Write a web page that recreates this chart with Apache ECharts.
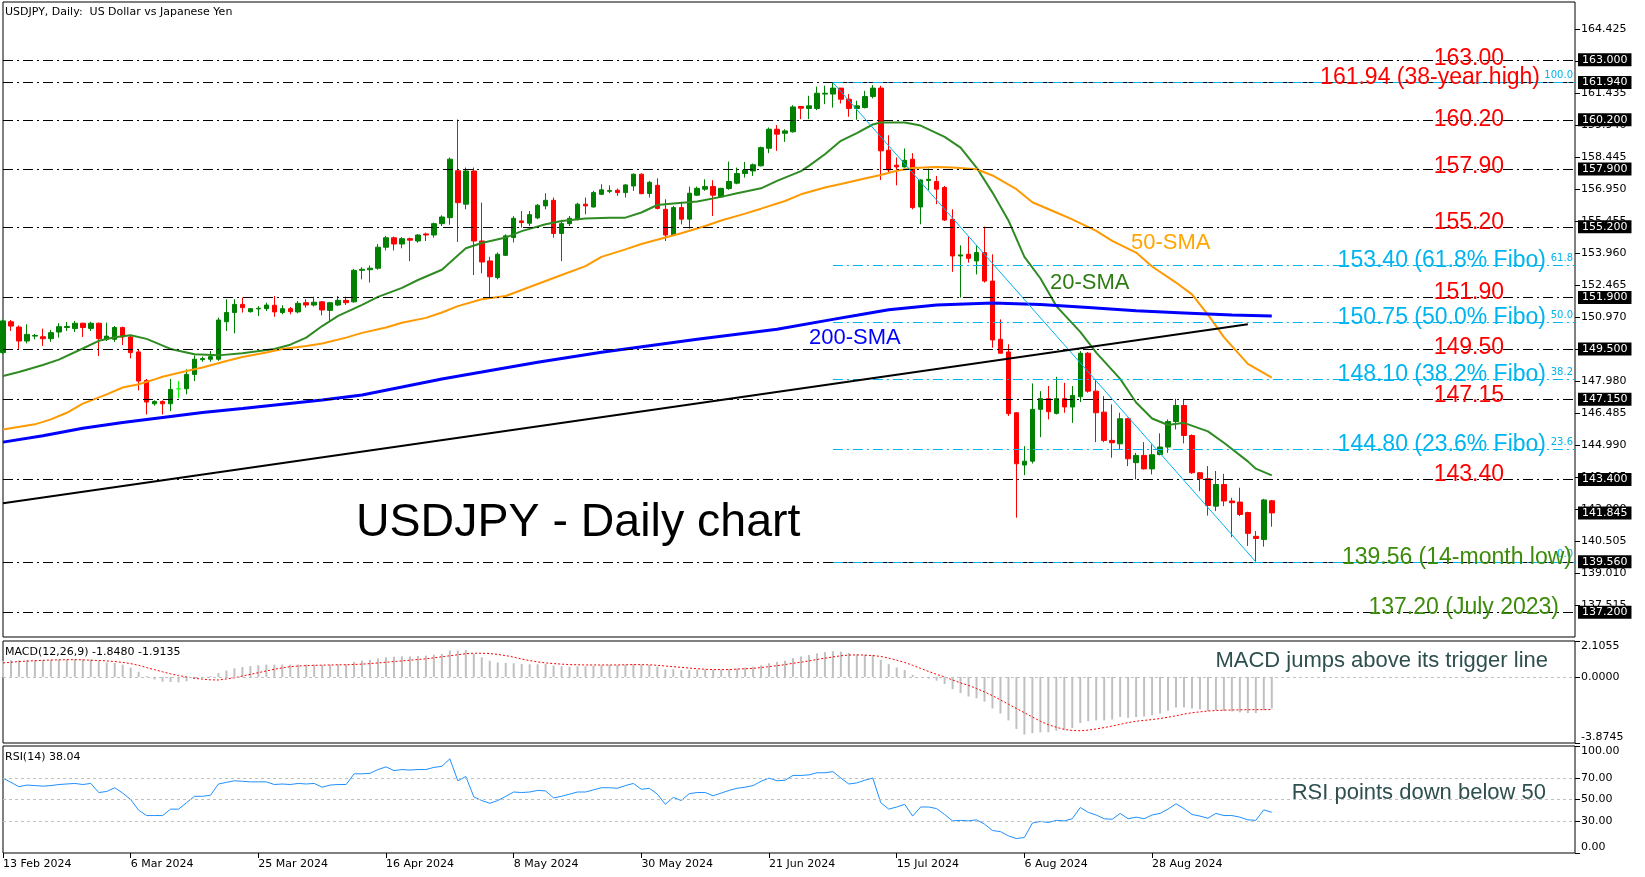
<!DOCTYPE html>
<html>
<head>
<meta charset="utf-8">
<title>USDJPY Daily chart</title>
<script src="https://cdn.jsdelivr.net/npm/echarts@6.0.0/dist/echarts.min.js"></script>
<style>
  html, body { margin: 0; padding: 0; background: #fff; }
  #chart { width: 1645px; height: 877px; }
</style>
</head>
<body>
<div id="chart"></div>
<script>
// daily bars, 13 Feb 2024 -> 18 Sep 2024
const opens = [
  149.33,150.77,150.52,149.87,150.1,150.07,149.98,150.29,150.5,150.45,
  150.7,150.46,150.7,149.95,149.95,150.5,150.06,149.36,148.03,146.94,
  147.05,146.94,147.64,147.64,148.31,149.0,149.02,149.02,150.77,151.2,
  151.58,151.24,151.37,151.38,151.54,151.2,151.38,151.23,151.66,151.55,
  151.7,151.3,151.55,151.77,151.7,153.17,153.2,153.27,154.25,154.69,
  154.4,154.65,154.54,154.87,154.82,155.35,155.63,157.82,156.26,157.81,
  154.54,153.61,152.83,153.87,154.7,155.48,155.37,155.62,156.18,156.44,
  154.89,155.35,155.56,156.26,156.13,156.72,156.86,156.91,156.8,157.11,
  157.66,156.76,157.14,156.02,154.82,156.1,155.56,156.68,156.96,157.08,
  156.6,156.99,157.24,157.69,157.81,158.05,158.87,159.76,159.57,159.64,
  160.82,160.73,160.73,161.4,161.4,161.68,161.16,160.73,160.77,161.29,
  161.68,158.78,158.08,158.0,158.36,156.13,157.37,157.32,157.04,155.56,
  153.84,153.92,153.61,154.0,152.67,149.95,149.36,146.52,144.08,144.26,
  146.68,147.18,146.49,147.18,146.79,147.27,149.3,147.53,146.55,145.23,
  145.07,146.24,144.19,144.53,143.9,144.57,144.92,146.11,146.86,145.46,
  143.72,143.44,142.16,143.17,142.4,142.35,141.86,140.75,140.6,142.41
];
const highs = [
  150.88,150.85,150.6,150.65,150.2,150.45,150.39,150.7,150.76,150.8,
  150.72,150.77,150.73,150.73,150.57,150.54,150.1,149.45,148.1,147.1,
  147.1,148.1,148.0,148.55,149.2,149.14,149.4,150.96,151.82,151.82,
  151.9,151.4,151.5,151.66,151.97,151.54,151.46,151.74,151.82,151.94,
  151.72,151.7,151.97,151.94,153.24,153.32,153.4,154.4,154.78,154.75,
  154.72,154.7,154.86,154.93,155.4,155.74,158.44,160.21,157.97,157.97,
  156.33,153.8,154.0,154.85,155.7,155.94,155.94,156.26,156.77,156.57,
  155.53,155.71,156.33,156.57,156.88,157.19,157.14,156.99,157.19,157.69,
  157.7,157.35,157.47,156.49,156.18,156.37,157.08,157.08,157.42,157.38,
  157.02,158.25,157.97,158.23,158.16,158.95,159.84,159.95,159.76,160.88,
  160.82,161.32,161.75,161.79,161.94,161.68,161.4,161.09,161.55,161.82,
  161.79,159.48,158.44,158.86,158.64,157.42,157.92,157.58,157.11,156.02,
  154.34,154.75,154.34,155.21,153.92,150.88,149.72,146.55,144.96,147.89,
  147.53,147.77,148.2,147.92,147.77,149.4,149.36,148.08,147.3,146.91,
  146.52,146.29,144.65,145.15,145.04,145.56,146.21,147.17,147.17,145.51,
  143.75,144.03,143.8,143.67,142.55,143.02,141.9,141.0,142.5,142.45
];
const lows = [
  149.25,150.34,149.5,149.76,149.95,149.64,149.83,150.03,150.34,150.29,
  150.06,150.34,149.17,149.87,149.83,149.68,149.06,147.57,146.44,146.85,
  146.44,146.6,147.2,147.38,148.0,148.9,148.9,148.94,150.34,150.23,
  151.2,151.2,151.04,151.27,151.0,151.12,151.12,151.16,151.43,151.48,
  151.07,150.8,151.5,151.55,151.66,152.75,152.6,153.2,154.1,154.1,
  154.2,153.6,154.46,154.54,154.7,155.24,155.3,154.5,156.02,152.95,
  153.03,151.86,152.75,153.84,154.47,155.17,155.24,155.56,156.02,154.7,
  153.6,155.24,155.5,155.79,156.1,156.68,156.77,156.65,156.57,156.88,
  156.72,156.57,156.02,154.54,154.78,155.32,155.12,156.65,156.88,155.71,
  156.57,156.93,157.19,157.5,157.58,158.02,158.64,158.75,159.17,159.6,
  160.23,160.23,160.65,160.93,160.77,160.96,160.34,160.2,160.73,161.2,
  157.39,157.7,157.14,157.97,156.02,155.32,156.91,156.26,155.48,153.1,
  151.9,153.53,152.98,152.6,149.56,149.3,146.37,141.62,143.61,144.15,
  145.38,146.21,146.44,146.52,146.05,147.02,147.46,145.15,145.15,144.42,
  144.81,144.03,143.41,143.87,143.64,144.53,144.65,145.74,145.09,143.67,
  142.86,141.72,141.93,142.16,140.71,141.69,140.3,139.56,140.27,141.2
];
const closes = [
  150.81,150.57,149.87,150.18,150.13,149.98,150.26,150.54,150.55,150.7,
  150.5,150.7,149.98,150.1,150.5,150.06,149.33,148.0,147.02,147.05,
  146.94,147.61,147.64,148.31,149.02,149.05,149.14,150.85,151.2,151.58,
  151.43,151.38,151.4,151.55,151.23,151.38,151.24,151.63,151.55,151.68,
  151.32,151.66,151.77,151.66,153.17,153.22,153.27,154.25,154.69,154.4,
  154.65,154.58,154.82,154.82,155.35,155.66,158.36,156.33,157.81,154.54,
  153.56,152.87,153.92,154.78,155.6,155.4,155.77,156.21,156.44,154.89,
  155.35,155.6,156.26,156.18,156.8,156.93,156.9,156.8,157.16,157.66,
  156.75,157.28,156.06,154.82,156.1,155.56,156.77,157.0,157.08,156.68,
  157.0,157.32,157.69,157.84,158.1,158.9,159.76,159.53,159.68,160.8,
  160.74,160.85,161.44,161.44,161.68,161.16,160.73,160.85,161.29,161.68,
  158.75,157.86,158.0,158.31,156.1,157.39,157.42,156.96,155.52,153.84,
  153.89,153.73,154.0,152.67,149.92,149.3,146.48,144.14,144.26,146.68,
  147.18,146.57,147.18,146.79,147.33,149.3,147.53,146.52,145.23,145.12,
  146.24,144.37,144.53,143.9,144.56,144.92,146.11,146.86,145.46,143.72,
  143.44,142.19,143.17,142.4,142.32,141.77,140.89,140.65,142.45,141.845
];
const dojiBars = [22];

// moving averages: [bar, value]
const sma20 = [[0,148.24],[2,148.42],[5,148.75],[7,149.0],[10,149.52],[12,149.88],[14,150.05],[16,150.14],[18,149.97],[21,149.5],[24,149.25],[27,149.2],[30,149.3],[34,149.5],[36,149.7],[38,150.03],[40,150.57],[42,151.04],[45,151.56],[47,151.93],[50,152.35],[52,152.72],[55,153.2],[58,154.2],[60,154.45],[63,154.7],[65,155.0],[68,155.32],[70,155.47],[73,155.59],[76,155.63],[78,155.63],[80,155.87],[82,156.22],[84,156.29],[87,156.38],[90,156.6],[92,156.77],[95,157.0],[97,157.35],[100,157.8],[101,158.05],[103,158.59],[105,159.22],[107,159.58],[109,159.98],[110,160.07],[113,160.07],[115,159.93],[118,159.4],[120,158.9],[122,157.97],[124,156.8],[126,155.5],[128,153.8],[130,152.8],[132,151.5],[135,150.3],[137,149.33],[140,148.1],[142,147.0],[144,146.25],[146,145.95],[148,146.05],[151,145.65],[153,145.12],[156,144.25],[157,143.91],[159,143.6]];
const sma50 = [[0,145.74],[4,145.98],[6,146.21],[8,146.52],[10,146.95],[13,147.38],[15,147.7],[17,147.85],[19,148.08],[20,148.2],[23,148.47],[25,148.63],[28,148.94],[30,149.12],[33,149.33],[35,149.5],[38,149.64],[40,149.75],[43,150.03],[45,150.25],[48,150.5],[50,150.72],[53,150.95],[55,151.2],[57,151.5],[60,151.82],[63,151.97],[65,152.25],[68,152.67],[70,152.95],[73,153.37],[75,153.8],[78,154.15],[80,154.4],[83,154.7],[85,154.9],[88,155.24],[90,155.5],[93,155.82],[95,156.05],[98,156.41],[100,156.72],[103,157.04],[105,157.2],[108,157.46],[110,157.62],[112,157.82],[114,157.95],[117,158.0],[119,157.97],[122,157.89],[124,157.6],[127,156.96],[129,156.35],[132,155.87],[134,155.55],[137,155.01],[139,154.55],[142,154.0],[144,153.35],[147,152.6],[149,152.05],[151,151.1],[153,150.05],[156,148.8],[159,148.16]];
const sma200 = [[0,145.15],[5,145.45],[10,145.8],[15,146.07],[20,146.3],[25,146.53],[30,146.72],[35,146.92],[40,147.12],[45,147.35],[50,147.72],[55,148.1],[60,148.42],[67,148.88],[75,149.35],[87,149.95],[97,150.42],[104,150.88],[107,151.07],[111,151.33],[117,151.55],[124,151.65],[130,151.57],[136,151.43],[142,151.28],[148,151.18],[154,151.08],[159,151.04]];

// MACD(12,26,9): main (histogram) and signal
const macdMain = [
  0.95,0.98,0.97,0.98,0.98,0.98,1.0,1.02,1.03,1.04,1.03,1.02,0.92,0.85,0.82,0.72,0.55,0.3,0.05,-0.15,
  -0.28,-0.3,-0.32,-0.25,-0.12,-0.02,0.05,0.22,0.38,0.5,0.58,0.64,0.68,0.72,0.72,0.73,0.72,0.73,0.72,0.72,
  0.7,0.72,0.74,0.75,0.88,0.95,1.0,1.08,1.15,1.18,1.2,1.2,1.22,1.25,1.3,1.35,1.55,1.55,1.58,1.35,
  1.15,0.95,0.85,0.82,0.8,0.76,0.74,0.74,0.75,0.66,0.62,0.6,0.62,0.62,0.65,0.68,0.7,0.7,0.72,0.76,
  0.72,0.7,0.6,0.45,0.45,0.4,0.42,0.43,0.45,0.42,0.42,0.45,0.5,0.55,0.6,0.68,0.8,0.88,0.95,1.1,
  1.2,1.28,1.38,1.45,1.5,1.48,1.4,1.32,1.3,1.28,1.0,0.75,0.55,0.4,0.12,0.0,-0.1,-0.22,-0.42,-0.72,
  -0.95,-1.15,-1.25,-1.45,-1.85,-2.15,-2.55,-3.05,-3.38,-3.3,-3.25,-3.25,-3.15,-3.1,-3.0,-2.7,-2.6,-2.55,-2.55,-2.5,
  -2.35,-2.4,-2.35,-2.32,-2.25,-2.15,-1.98,-1.8,-1.78,-1.85,-1.9,-2.0,-1.95,-2.0,-2.02,-2.08,-2.12,-2.12,-1.95,-1.848
];
const macdSignal = [
  0.82,0.86,0.9,0.93,0.95,0.97,0.99,1.0,1.01,1.01,1.0,0.98,0.96,0.94,0.9,0.85,0.78,0.68,0.55,0.42,
  0.3,0.18,0.08,0.0,-0.08,-0.13,-0.17,-0.18,-0.12,-0.05,0.05,0.15,0.25,0.35,0.45,0.53,0.6,0.64,0.66,0.68,
  0.69,0.7,0.71,0.71,0.73,0.75,0.78,0.82,0.86,0.9,0.94,0.98,1.02,1.06,1.12,1.18,1.24,1.3,1.36,1.39,
  1.39,1.37,1.32,1.25,1.16,1.05,0.96,0.88,0.82,0.78,0.75,0.72,0.71,0.7,0.7,0.7,0.7,0.7,0.71,0.72,
  0.72,0.71,0.68,0.64,0.6,0.56,0.52,0.48,0.45,0.43,0.43,0.43,0.46,0.48,0.5,0.55,0.6,0.66,0.72,0.8,
  0.86,0.94,1.02,1.1,1.17,1.24,1.28,1.29,1.28,1.25,1.2,1.1,0.98,0.85,0.68,0.5,0.32,0.15,0.0,-0.18,
  -0.35,-0.5,-0.68,-0.88,-1.1,-1.35,-1.6,-1.85,-2.1,-2.35,-2.6,-2.8,-2.95,-3.08,-3.14,-3.16,-3.12,-3.05,-2.97,-2.88,
  -2.78,-2.68,-2.6,-2.55,-2.5,-2.44,-2.36,-2.28,-2.18,-2.1,-2.05,-2.0,-1.97,-1.95,-1.94,-1.93,-1.92,-1.92,-1.92,-1.9135
];
// RSI(14)
const rsi = [
  70,66,62,63.5,63,62.5,63,64,64.5,65,64,65,56.5,57.5,61,56,50,40,35,35,
  35,41,41,47,53,53,54,64.5,66,67.5,67,66.5,66.5,66.5,64,64.5,64,65,64.5,65,
  61.5,63.5,64,64,74,74,74.5,78,80.5,77,78,77.5,78,78,80,81,88,67.5,71.5,52.5,
  49,46.5,49,53,57,56.5,57,58.5,58,51.5,53,55,57,57,59,61,61,60.5,63,65,
  59.5,60.5,55,45.5,52,49,55.5,56.5,56.5,53.5,56,58.5,60.5,61.5,63,67,70,67.5,68,72.5,
  72.5,73,75,75,76,70,64.5,65.5,68,70,47,41,43,45.5,34.5,43,43,41.5,36,30,
  30.5,30,31,27,21,20,16,13.5,14.5,28,29.5,28.5,30.5,30,32,42.5,38,35.5,32,31.5,
  37,32,33.5,32,35.5,37,41,46,41.5,36,34.5,32.5,37,35,35,33.5,31,30.5,40.3,38.04
];

// axis ticks and labels
const dateTicks = ['13 Feb 2024', '6 Mar 2024', '25 Mar 2024', '16 Apr 2024', '8 May 2024',
  '30 May 2024', '21 Jun 2024', '15 Jul 2024', '6 Aug 2024', '28 Aug 2024'];
const priceTicks = [137.515, 139.010, 140.505, 142.000, 143.495, 144.990, 146.485, 147.980, 149.475,
  150.970, 152.465, 153.960, 155.455, 156.950, 158.445, 159.940, 161.435, 162.930, 164.425];
const macdTicks = [-3.8745, 0, 2.1055];
const rsiTicks = [0, 30, 50, 70, 100];

// horizontal levels and notes
const levels = [163.00, 161.94, 160.20, 157.90, 155.20, 151.90, 149.50, 147.15, 143.40, 139.56, 137.20];
const lastPrice = 141.845;
const redNotes = [163.00, 160.20, 157.90, 155.20, 151.90, 149.50, 147.15, 143.40];
const highNote = [161.94, '161.94 (38-year high)'];
const lowNotes = [[139.56, '139.56 (14-month low)'], [137.20, '137.20 (July 2023)']];
const fiboLevels = [161.94, 153.40, 150.75, 148.10, 144.80, 139.56];
const fiboRatios = [100.0, 61.8, 50.0, 38.2, 23.6, 0.0];
const fiboFrom = [104, 161.94];
const fiboTo = [157, 139.56];
const trendFrom = [0, 142.3];
const trendTo = [156, 150.65];

const barStep = 16;          // a date label every 16 bars
const slotCount = 198;       // bars that fit across the panel
const slots = Array.from({ length: slotCount }, (_, i) => String(i));
const lastSlot = slotCount - 1;

// some notes sit a little lower on their line in the original
const noteDrop = { '163.00': 3, '160.20': 4, '157.90': 2, '149.50': 3, '147.15': 1 };

const candles = opens.map((o, i) => {
  const item = { value: [o, closes[i], lows[i], highs[i]] };
  if (dojiBars.includes(i)) item.itemStyle = { color: '#00ff00', borderColor: '#00ff00' };
  return item;
});

const dashDot = [10, 4, 2, 4];
const FIBO = '#00b4f0';
const boxLabel = v => ({
  show: true, position: 'end', distance: 3, formatter: v.toFixed(3),
  color: '#fff', backgroundColor: '#000', padding: [1, 4, 0, 4],
  fontFamily: 'DejaVu Sans', fontSize: 11, lineHeight: 12, opacity: 1
});
const noteLine = (v, text, color, inset) => ({
  yAxis: v,
  lineStyle: { color: 'rgba(0,0,0,0)' },
  label: {
    show: true, position: 'insideEndTop', distance: [inset, -7 - (noteDrop[text] || 0)], formatter: text,
    color: color, fontFamily: 'Liberation Sans', fontSize: 23, lineHeight: 23, opacity: 1
  }
});

const marks = [];
levels.forEach(v => marks.push({
  yAxis: v, lineStyle: { color: '#000', width: 1, type: dashDot }, label: boxLabel(v)
}));
marks.push({ yAxis: lastPrice, lineStyle: { color: 'rgba(0,0,0,0)' }, label: boxLabel(lastPrice) });
fiboLevels.forEach((v, k) => marks.push([
  {
    coord: [fiboFrom[0], v], lineStyle: { color: FIBO, width: 1, type: dashDot },
    label: { show: true, position: 'insideEndTop', distance: [2, 2], formatter: fiboRatios[k].toFixed(1),
      color: FIBO, fontFamily: 'DejaVu Sans', fontSize: 10 }
  },
  { coord: [lastSlot, v] }
]));
marks.push([
  { coord: fiboFrom, lineStyle: { color: FIBO, width: 1, type: 'solid' }, label: { show: false } },
  { coord: fiboTo }
]);
marks.push([
  { coord: trendFrom, lineStyle: { color: '#000', width: 2, type: 'solid' }, label: { show: false } },
  { coord: trendTo }
]);
redNotes.forEach(v => marks.push(noteLine(v, v.toFixed(2), '#ff0000', 71)));
marks.push(noteLine(highNote[0], highNote[1], '#ff0000', 35));
fiboLevels.forEach((v, k) => {
  if (k > 0 && k < fiboLevels.length - 1) {
    marks.push(noteLine(v, v.toFixed(2) + ' (' + fiboRatios[k].toFixed(1) + '% Fibo)', FIBO, 29));
  }
});
marks.push(noteLine(lowNotes[0][0], lowNotes[0][1], '#3c8c0a', 3));
marks.push(noteLine(lowNotes[1][0], lowNotes[1][1], '#3c8c0a', 16));

const axisFont = { color: '#000', fontFamily: 'DejaVu Sans', fontSize: 11 };
const showDate = idx => idx % barStep === 0 && idx / barStep < dateTicks.length;

function xAxisFor(gridIndex, withLabels) {
  return {
    gridIndex, type: 'category', data: slots, boundaryGap: false,
    axisLine: { show: false }, splitLine: { show: false },
    axisTick: withLabels
      ? { show: true, interval: showDate, length: 5, lineStyle: { color: '#000' } }
      : { show: false },
    axisLabel: withLabels
      ? Object.assign({ show: true, interval: showDate, align: 'left', margin: 6,
          formatter: (val, idx) => dateTicks[idx / barStep] }, axisFont)
      : { show: false }
  };
}

function yAxisFor(gridIndex, min, max, ticks, digits, edgeAlign) {
  const label = Object.assign({
    customValues: ticks, margin: 6, formatter: v => v.toFixed(digits)
  }, axisFont);
  if (edgeAlign) {
    // lowest label sits above the bottom edge, highest below the top edge
    label.verticalAlignMinLabel = 'bottom';
    label.verticalAlignMaxLabel = 'top';
  }
  return {
    gridIndex, type: 'value', position: 'right', min, max, scale: true,
    axisLine: { show: false }, splitLine: { show: false },
    axisTick: { show: true, customValues: ticks, length: 5, lineStyle: { color: '#000' } },
    axisLabel: label
  };
}

const grayLevel = v => ({ yAxis: v, lineStyle: { color: '#c0c0c0', width: 1, type: [3, 3] }, label: { show: false } });
const panel = { left: 3, right: 70, show: true, borderColor: '#000', borderWidth: 1, backgroundColor: '#fff' };
const txt = (x, y, text, size, color, family, align) => ({
  type: 'text', x, y, z: 100, silent: true,
  style: { text, fill: color, fontSize: size, fontFamily: family || 'Liberation Sans',
    align: align || 'left', verticalAlign: 'middle' }
});

const chart = echarts.init(document.getElementById('chart'), null, { renderer: 'canvas' });
chart.setOption({
  animation: false,
  backgroundColor: '#fff',
  grid: [
    Object.assign({ top: 2, height: 635 }, panel),
    Object.assign({ top: 641, height: 102 }, panel),
    Object.assign({ top: 746, height: 107 }, panel)
  ],
  xAxis: [xAxisFor(0, false), xAxisFor(1, false), xAxisFor(2, true)],
  yAxis: [
    yAxisFor(0, 136.05, 165.7, priceTicks, 3, false),
    yAxisFor(1, -3.8745, 2.1055, macdTicks, 4, true),
    yAxisFor(2, 0, 100, rsiTicks, 2, true)
  ],
  series: [
    {
      name: 'USDJPY', type: 'candlestick', xAxisIndex: 0, yAxisIndex: 0, z: 3,
      barWidth: 5, data: candles,
      itemStyle: { color: '#008000', color0: '#ff0000', borderColor: '#008000', borderColor0: '#ff0000', borderWidth: 1 },
      markLine: { silent: true, symbol: ['none', 'none'], animation: false, label: { show: false }, data: marks }
    },
    { name: '20-SMA', type: 'line', xAxisIndex: 0, yAxisIndex: 0, data: sma20, showSymbol: false, z: 4,
      lineStyle: { color: '#2e8b22', width: 2 } },
    { name: '50-SMA', type: 'line', xAxisIndex: 0, yAxisIndex: 0, data: sma50, showSymbol: false, z: 4,
      lineStyle: { color: '#ff9900', width: 2 } },
    { name: '200-SMA', type: 'line', xAxisIndex: 0, yAxisIndex: 0, data: sma200, showSymbol: false, z: 4,
      lineStyle: { color: '#0000ff', width: 3 } },
    {
      name: 'MACD', type: 'bar', xAxisIndex: 1, yAxisIndex: 1, data: macdMain, barWidth: 2,
      itemStyle: { color: '#c0c0c0' },
      markLine: { silent: true, symbol: ['none', 'none'], animation: false, data: [grayLevel(0)] }
    },
    { name: 'Signal', type: 'line', xAxisIndex: 1, yAxisIndex: 1, data: macdSignal, showSymbol: false,
      lineStyle: { color: '#ff0000', width: 1, type: [2, 2] } },
    {
      name: 'RSI', type: 'line', xAxisIndex: 2, yAxisIndex: 2, data: rsi, showSymbol: false,
      lineStyle: { color: '#1e90ff', width: 1 },
      markLine: { silent: true, symbol: ['none', 'none'], animation: false,
        data: [grayLevel(70), grayLevel(50), grayLevel(30)] }
    }
  ],
  graphic: [
    txt(5, 12, 'USDJPY, Daily:  US Dollar vs Japanese Yen', 11, '#000', 'DejaVu Sans'),
    txt(5, 652, 'MACD(12,26,9) -1.8480 -1.9135', 11, '#000', 'DejaVu Sans'),
    txt(5, 757, 'RSI(14) 38.04', 11, '#000', 'DejaVu Sans'),
    txt(356, 523, 'USDJPY - Daily chart', 46.5, '#000'),
    txt(809, 338, '200-SMA', 22, '#0000ff'),
    txt(1050, 283, '20-SMA', 22, '#2e7d14'),
    txt(1131, 243, '50-SMA', 22, '#ffa500'),
    txt(1548, 661, 'MACD jumps above its trigger line', 22, '#2f4f4f', null, 'right'),
    txt(1546, 793, 'RSI points down below 50', 22, '#2f4f4f', null, 'right')
  ]
});
</script>
</body>
</html>
